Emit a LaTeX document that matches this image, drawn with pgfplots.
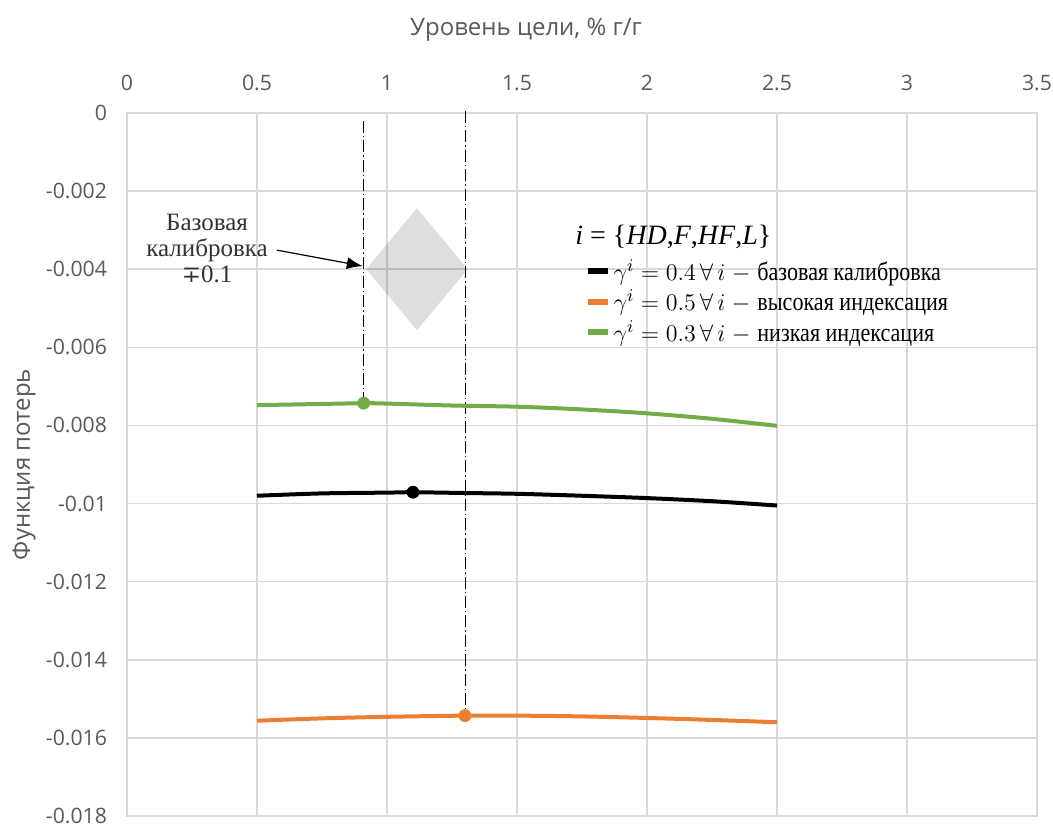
\documentclass[border=0pt]{standalone}
\usepackage{pgfplots}
\pgfplotsset{compat=1.18}
\usepackage{fontspec}
\setmainfont{Open Sans}
\newfontfamily\serifcyr{Liberation Serif}
\newfontfamily\djv{DejaVu Serif}
\newfontfamily\legfont[FakeStretch=0.85]{Liberation Serif}
\usetikzlibrary{arrows.meta}
\definecolor{xlorange}{HTML}{ED7D31}
\definecolor{xlgreen}{HTML}{70AD47}
\definecolor{gridgray}{HTML}{D9D9D9}
\definecolor{labgray}{HTML}{595959}
\begin{document}
\begin{tikzpicture}
\begin{axis}[
  scale only axis, width=455pt, height=351.5pt,
  xmin=0, xmax=3.5, ymin=-0.018, ymax=0,
  clip=false,
  scaled y ticks=false, scaled x ticks=false,
  axis line style={draw=gridgray, line width=0.8pt},
  grid=major, grid style={draw=gridgray, line width=0.8pt},
  tick style={draw=none},
  xticklabel pos=upper,
  xtick={0,0.5,1,1.5,2,2.5,3,3.5},
  xticklabels={0,0.5,1,1.5,2,2.5,3,3.5},
  ytick={0,-0.002,-0.004,-0.006,-0.008,-0.01,-0.012,-0.014,-0.016,-0.018},
  yticklabels={0,-0.002,-0.004,-0.006,-0.008,-0.01,-0.012,-0.014,-0.016,-0.018},
  ticklabel style={font=\fontsize{10.6}{12}\selectfont, text=labgray},
  xticklabel style={anchor=center, yshift=15pt},
  yticklabel style={anchor=east, xshift=-6.5pt},
  xlabel={Уровень цели, \% г/г},
  ylabel={Функция потерь},
  label style={font=\fontsize{12}{14}\selectfont, text=labgray},
  xlabel style={at={([yshift=41.5pt]rel axis cs:0.4385,1)}, anchor=center},
  ylabel style={at={([xshift=-51.5pt]rel axis cs:0,0.5)}, anchor=center},
  legend style={at={(axis cs:1.735,-0.00356)}, anchor=north west, draw=none, fill=none,
    font=\fontsize{13}{15}\selectfont, cells={anchor=west}, row sep=0.5pt,
    nodes={inner sep=1.5pt}},
  legend image code/.code={\draw[line width=3pt] (0pt,0pt) -- (10pt,0pt);},
]
% diamond
\addplot[draw=none, fill=black, fill opacity=0.13, forget plot] coordinates {(0.92,-0.004) (1.115,-0.00244) (1.31,-0.004) (1.115,-0.00556) (0.92,-0.004)} -- cycle;
% vertical dash-dot lines
\addplot[black, line width=0.5pt, dash pattern=on 6pt off 1.5pt on 0.7pt off 1.5pt, forget plot] coordinates {(0.91,-0.0002) (0.91,-0.00743)};
\addplot[black, line width=0.5pt, dash pattern=on 6pt off 1.5pt on 0.7pt off 1.5pt, forget plot] coordinates {(1.3,0.00005) (1.3,-0.01543)};
% series
\addplot[black, line width=2pt, smooth] coordinates {(0.5,-0.00980) (0.75,-0.00974) (1.0,-0.00972) (1.1,-0.00971) (1.3,-0.00973) (1.5,-0.00975) (1.75,-0.00980) (2.0,-0.00986) (2.25,-0.00994) (2.5,-0.01005)};
\addlegendentry{$\gamma^{i}=0.4\,\forall\,i\;-$ {\legfont базовая калибровка}}
\addplot[xlorange, line width=2pt, smooth] coordinates {(0.5,-0.01556) (0.75,-0.01550) (1.0,-0.01546) (1.3,-0.01543) (1.5,-0.01543) (1.75,-0.01545) (2.0,-0.01549) (2.25,-0.01554) (2.5,-0.01560)};
\addlegendentry{$\gamma^{i}=0.5\,\forall\,i\;-$ {\legfont высокая индексация}}
\addplot[xlgreen, line width=2pt, smooth] coordinates {(0.5,-0.00748) (0.75,-0.00745) (0.91,-0.00743) (1.0,-0.00744) (1.25,-0.00749) (1.5,-0.00752) (1.75,-0.00759) (2.0,-0.00769) (2.25,-0.00783) (2.5,-0.00801)};
\addlegendentry{$\gamma^{i}=0.3\,\forall\,i\;-$ {\legfont низкая индексация}}
% markers
\addplot[only marks, mark=*, mark size=3pt, black, forget plot] coordinates {(1.1,-0.00971)};
\addplot[only marks, mark=*, mark size=3pt, xlorange, forget plot] coordinates {(1.3,-0.01543)};
\addplot[only marks, mark=*, mark size=3pt, xlgreen, forget plot] coordinates {(0.91,-0.00743)};
% arrow
\addplot[black, line width=0.6pt, -{Latex[length=8pt,width=6pt]}, forget plot] coordinates {(0.576,-0.00351) (0.907,-0.00392)};
\node[align=center, font=\serifcyr\fontsize{12.5}{13}\selectfont, text=black!80, inner sep=0pt] at (axis cs:0.308,-0.00346) {Базовая\\калибровка\\{\djv\fontsize{11.5}{13}\selectfont ∓}0.1};
\node[anchor=west, font=\serifcyr\fontsize{14}{15}\selectfont, inner sep=0pt] at (axis cs:1.723,-0.00317) {\textit{i} = \{\textit{HD},\textit{F},\textit{HF},\textit{L}\}};
\end{axis}
\pgfresetboundingbox
\path ([shift={(-63.5pt,-5pt)}]current axis.south west) rectangle ([shift={(8pt,56.5pt)}]current axis.north east);
\end{tikzpicture}
\end{document}
